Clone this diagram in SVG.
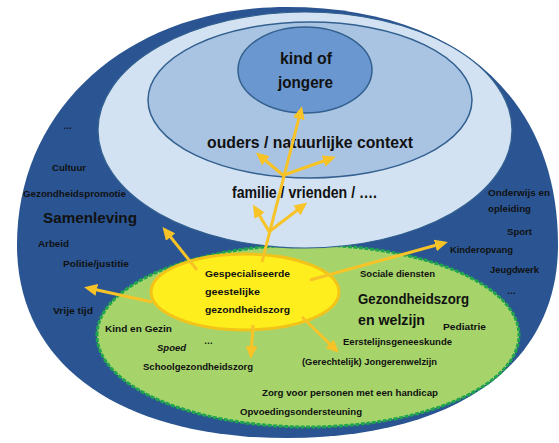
<svg xmlns="http://www.w3.org/2000/svg" width="559" height="443" viewBox="0 0 559 443">
  <defs>
    <marker id="ah" markerUnits="userSpaceOnUse" markerWidth="13" markerHeight="12" refX="9" refY="6" orient="auto">
      <path d="M0,0 L13,6 L0,12 Z" fill="#f7c327"/>
    </marker>
  </defs>
  <style>
    text { font-family: "Liberation Sans", Arial, sans-serif; fill: #111; }
    .sm { font-size: 9.5px; font-weight: bold; }
    .big { font-size: 15px; font-weight: bold; }
    .mid { font-size: 16px; font-weight: bold; }
    .ring { stroke: #33608f; stroke-width: 1.5; }
    .arrow { fill: none; stroke: #f7c327; stroke-width: 3; marker-end: url(#ah); }
  </style>

  <rect width="559" height="443" fill="#ffffff"/>

  <!-- outer ring: samenleving -->
  <g id="samenleving">
    <path d="M17,245 C17,107 130,7 287,7 C455,7 558,97 558,245 C558,365 455,438 287,438 C120,438 17,365 17,245 Z" fill="#2a5592"/>
    <text class="sm" x="63" y="129" textLength="9" lengthAdjust="spacingAndGlyphs">…</text>
    <text class="sm" x="52" y="171" textLength="34" lengthAdjust="spacingAndGlyphs">Cultuur</text>
    <text class="sm" x="23" y="197" textLength="103" lengthAdjust="spacingAndGlyphs">Gezondheidspromotie</text>
    <text class="big" x="43" y="223" textLength="94" lengthAdjust="spacingAndGlyphs">Samenleving</text>
    <text class="sm" x="38" y="247" textLength="31" lengthAdjust="spacingAndGlyphs">Arbeid</text>
    <text class="sm" x="63" y="267" textLength="66" lengthAdjust="spacingAndGlyphs">Politie/justitie</text>
    <text class="sm" x="53" y="314" textLength="40" lengthAdjust="spacingAndGlyphs">Vrije tijd</text>
    <text class="sm" x="488" y="196" textLength="62" lengthAdjust="spacingAndGlyphs">Onderwijs en</text>
    <text class="sm" x="488" y="212" textLength="43" lengthAdjust="spacingAndGlyphs">opleiding</text>
    <text class="sm" x="507" y="235" textLength="25" lengthAdjust="spacingAndGlyphs">Sport</text>
    <text class="sm" x="450" y="253" textLength="63" lengthAdjust="spacingAndGlyphs">Kinderopvang</text>
    <text class="sm" x="490" y="273" textLength="49" lengthAdjust="spacingAndGlyphs">Jeugdwerk</text>
    <text class="sm" x="507" y="294" textLength="9" lengthAdjust="spacingAndGlyphs">…</text>
  </g>

  <!-- care & welfare zone (flatter on top than below) -->
  <g id="gezondheidszorg">
    <path d="M97,335 A211 90 0 0 1 519,335 A211 92 0 0 1 97,335 Z" fill="#a6d46b" stroke="#1fa54d" stroke-width="3" stroke-dasharray="4 1.5"/>
    <text class="sm" x="360" y="277" textLength="75" lengthAdjust="spacingAndGlyphs">Sociale diensten</text>
    <text class="big" x="358" y="304" textLength="111" lengthAdjust="spacingAndGlyphs">Gezondheidszorg</text>
    <text class="big" x="358" y="325" textLength="67" lengthAdjust="spacingAndGlyphs">en welzijn</text>
    <text class="sm" x="443" y="330" textLength="43" lengthAdjust="spacingAndGlyphs">Pediatrie</text>
    <text class="sm" x="343" y="345" textLength="109" lengthAdjust="spacingAndGlyphs">Eerstelijnsgeneeskunde</text>
    <text class="sm" x="302" y="365" textLength="135" lengthAdjust="spacingAndGlyphs">(Gerechtelijk) Jongerenwelzijn</text>
    <text class="sm" x="262" y="396" textLength="176" lengthAdjust="spacingAndGlyphs">Zorg voor personen met een handicap</text>
    <text class="sm" x="240" y="415" textLength="122" lengthAdjust="spacingAndGlyphs">Opvoedingsondersteuning</text>
    <text class="sm" x="105" y="332" textLength="67" lengthAdjust="spacingAndGlyphs">Kind en Gezin</text>
    <text class="sm" x="157" y="351" textLength="29" lengthAdjust="spacingAndGlyphs" font-style="italic">Spoed</text>
    <text class="sm" x="204" y="344" textLength="9" lengthAdjust="spacingAndGlyphs">…</text>
    <text class="sm" x="143" y="370" textLength="110" lengthAdjust="spacingAndGlyphs">Schoolgezondheidszorg</text>
  </g>

  <!-- wider context: family and friends -->
  <g id="familie">
    <ellipse cx="305" cy="130" rx="207" ry="118" fill="#d2e2f2" stroke="#33608f" stroke-width="1.2"/>
    <text class="mid" x="232" y="198" font-size="14.5" textLength="145" lengthAdjust="spacingAndGlyphs">familie / vrienden / ….</text>
  </g>

  <!-- parents / natural context -->
  <g id="ouders">
    <ellipse class="ring" cx="310" cy="100" rx="162" ry="78" fill="#a9c4e2"/>
    <text class="mid" x="207" y="148" textLength="206" lengthAdjust="spacingAndGlyphs">ouders / natuurlijke context</text>
  </g>

  <!-- child or youngster -->
  <g id="kind">
    <ellipse class="ring" cx="305" cy="70" rx="67" ry="43" fill="#6a97cf"/>
    <text x="280" y="64" font-size="16" font-weight="bold" textLength="52" lengthAdjust="spacingAndGlyphs">kind of</text>
    <text x="278" y="88" font-size="16" font-weight="bold" textLength="55" lengthAdjust="spacingAndGlyphs">jongere</text>
  </g>

  <!-- specialised mental health care -->
  <g id="ggz">
    <ellipse cx="245" cy="292" rx="94" ry="38" fill="#ffee1e" stroke="#f2c41a" stroke-width="3"/>
    <text class="sm" x="205" y="277" textLength="85" lengthAdjust="spacingAndGlyphs">Gespecialiseerde</text>
    <text class="sm" x="205" y="295" textLength="55" lengthAdjust="spacingAndGlyphs">geestelijke</text>
    <text class="sm" x="205" y="313" textLength="85" lengthAdjust="spacingAndGlyphs">gezondheidszorg</text>
  </g>

  <g id="connectors">
    <path class="arrow" d="M262,262 L301,110"/>
    <path class="arrow" d="M284,176 L259,155"/>
    <path class="arrow" d="M284,175 L332,158"/>
    <path class="arrow" d="M270,233 L255,208"/>
    <path class="arrow" d="M270,231 L304,205"/>
    <path class="arrow" d="M197,270 L165,230"/>
    <path class="arrow" d="M152,302 L88,288"/>
    <path class="arrow" d="M310,280 L444,243"/>
    <path class="arrow" d="M253,325 L251,355"/>
    <path class="arrow" d="M302,317 L336,350"/>
  </g>
</svg>
